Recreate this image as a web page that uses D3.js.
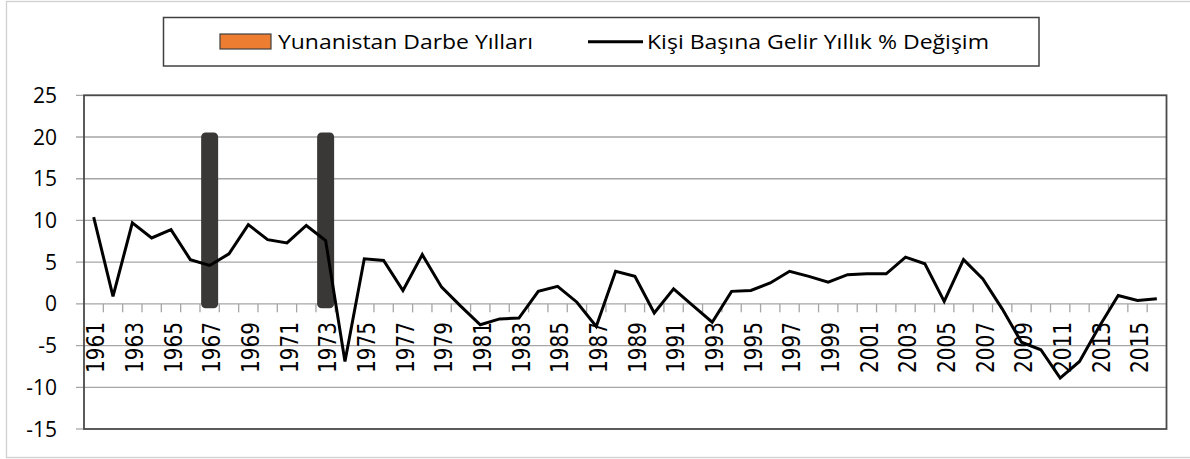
<!DOCTYPE html>
<html lang="tr">
<head>
  <meta charset="UTF-8">
  <title>Yunanistan Kişi Başına Gelir</title>
  <script src="https://d3js.org/d3.v7.min.js"></script>
  <style>
    body { margin: 0; background: #fff; }
    .grid line { stroke: #a6a6a6; stroke-width: 1.3px; }
    .ylab { font-family: "Open Sans", sans-serif; font-size: 21px; fill: #000; }
    .xlab { font-family: "DejaVu Sans", sans-serif; font-size: 20px; fill: #000; }
    .leg { font-family: "Open Sans", sans-serif; font-size: 20px; fill: #000; }
  </style>
</head>
<body>
<svg id="chart" width="1190" height="459"></svg>
<script>
  // categories
  const years = [1961, 1962, 1963, 1964, 1965, 1966, 1967, 1968, 1969, 1970,
                 1971, 1972, 1973, 1974, 1975, 1976, 1977, 1978, 1979, 1980,
                 1981, 1982, 1983, 1984, 1985, 1986, 1987, 1988, 1989, 1990,
                 1991, 1992, 1993, 1994, 1995, 1996, 1997, 1998, 1999, 2000,
                 2001, 2002, 2003, 2004, 2005, 2006, 2007, 2008, 2009, 2010,
                 2011, 2012, 2013, 2014, 2015, 2016];
  // Kişi başına gelir yıllık % değişim
  const growth = [10.4, 0.9, 9.7, 7.9, 8.9, 5.3, 4.6, 6.0, 9.5, 7.7,
                  7.3, 9.4, 7.6, -6.9, 5.4, 5.2, 1.6, 5.9, 2.0, -0.3,
                  -2.5, -1.8, -1.7, 1.5, 2.1, 0.2, -2.7, 3.9, 3.3, -1.1,
                  1.8, -0.2, -2.2, 1.5, 1.6, 2.5, 3.9, 3.3, 2.6, 3.5,
                  3.6, 3.6, 5.6, 4.8, 0.3, 5.3, 3.0, -0.6, -4.6, -5.5,
                  -8.9, -6.9, -2.8, 1.0, 0.4, 0.6];
  // darbe yılları
  const coupYears = [1967, 1973];
  const coupValues = [20, 20];
  const yTicks = [-15, -10, -5, 0, 5, 10, 15, 20, 25];
  const xLabels = years.filter((d, i) => i % 2 === 0);

  const svg = d3.select("#chart");
  const plot = { left: 84, right: 1166.5, top: 95.3, bottom: 429 };

  const x = d3.scaleBand().domain(years).range([plot.left, plot.right]).padding(0);
  const y = d3.scaleLinear().domain([-15, 25]).range([plot.bottom, plot.top]);
  const bw = x.bandwidth();

  // outer frame
  svg.append("rect")
     .attr("x", 6.5).attr("y", 1.5).attr("width", 1200).attr("height", 456)
     .attr("fill", "none").attr("stroke", "#d0d0d0").attr("stroke-width", 1.3);

  // gridlines + y ticks
  const grid = svg.append("g").attr("class", "grid");
  grid.selectAll("line.h").data(yTicks.filter(d => d !== -15 && d !== 0))
      .join("line").attr("class", "h")
      .attr("x1", plot.left - 8).attr("x2", plot.right)
      .attr("y1", d => y(d)).attr("y2", d => y(d));
  grid.selectAll("line.t").data([-15, 0])
      .join("line").attr("class", "t")
      .attr("x1", plot.left - 8).attr("x2", plot.left)
      .attr("y1", d => y(d)).attr("y2", d => y(d));

  // x axis at zero
  svg.append("line")
     .attr("x1", plot.left).attr("x2", plot.right)
     .attr("y1", y(0)).attr("y2", y(0))
     .attr("stroke", "#a6a6a6").attr("stroke-width", 1.3);
  svg.selectAll("line.xtick").data(years.slice(1))
     .join("line").attr("class", "xtick")
     .attr("x1", d => x(d)).attr("x2", d => x(d))
     .attr("y1", y(0)).attr("y2", y(0) + 8.5)
     .attr("stroke", "#a6a6a6").attr("stroke-width", 1.3);

  // plot border
  svg.append("rect")
     .attr("x", plot.left).attr("y", plot.top)
     .attr("width", plot.right - plot.left).attr("height", plot.bottom - plot.top)
     .attr("fill", "none").attr("stroke", "#4a4a4a").attr("stroke-width", 1.8);

  // y labels
  svg.selectAll("text.ylab").data(yTicks)
     .join("text").attr("class", "ylab")
     .attr("x", 57).attr("y", d => y(d)).attr("dy", "0.36em")
     .attr("text-anchor", "end")
     .text(d => d);

  // x labels (rotated)
  svg.selectAll("text.xlab").data(xLabels)
     .join("text").attr("class", "xlab")
     .attr("text-anchor", "end")
     .attr("transform", d => "translate(" + (x(d) + bw / 2 + 10.8) + "," + 322 + ") rotate(-90) scale(1,1.23)")
     .text(d => d);

  // coup bars
  svg.selectAll("rect.coup").data(coupYears.map((d, i) => ({ year: d, value: coupValues[i] })))
     .join("rect").attr("class", "coup")
     .attr("x", d => x(d.year) + bw / 2 - 4)
     .attr("width", 8)
     .attr("y", d => y(d.value))
     .attr("height", d => y(0) - y(d.value))
     .attr("fill", "#ed7d31")
     .attr("stroke", "#3a3836").attr("stroke-width", 9)
     .attr("stroke-linejoin", "round");

  // growth line
  const line = d3.line()
     .x((d, i) => x(years[i]) + bw / 2)
     .y(d => y(d));
  svg.append("path").datum(growth)
     .attr("d", line)
     .attr("fill", "none").attr("stroke", "#000").attr("stroke-width", 3)
     .attr("stroke-linejoin", "miter");

  // legend
  const leg = svg.append("g");
  leg.append("rect")
     .attr("x", 163.5).attr("y", 17.5).attr("width", 875.5).attr("height", 48.5)
     .attr("fill", "#fff").attr("stroke", "#404040").attr("stroke-width", 1.5);
  leg.append("rect")
     .attr("x", 220).attr("y", 34).attr("width", 51).attr("height", 15)
     .attr("fill", "#ed7d31").attr("stroke", "#404040").attr("stroke-width", 1.2);
  leg.append("text").attr("class", "leg")
     .attr("x", 278).attr("y", 49.3)
     .attr("textLength", 255).attr("lengthAdjust", "spacingAndGlyphs")
     .text("Yunanistan Darbe Yılları");
  leg.append("line")
     .attr("x1", 588).attr("x2", 643).attr("y1", 41.7).attr("y2", 41.7)
     .attr("stroke", "#000").attr("stroke-width", 3);
  leg.append("text").attr("class", "leg")
     .attr("x", 647).attr("y", 49.3)
     .attr("textLength", 342).attr("lengthAdjust", "spacingAndGlyphs")
     .text("Kişi Başına Gelir Yıllık % Değişim");
</script>
</body>
</html>
